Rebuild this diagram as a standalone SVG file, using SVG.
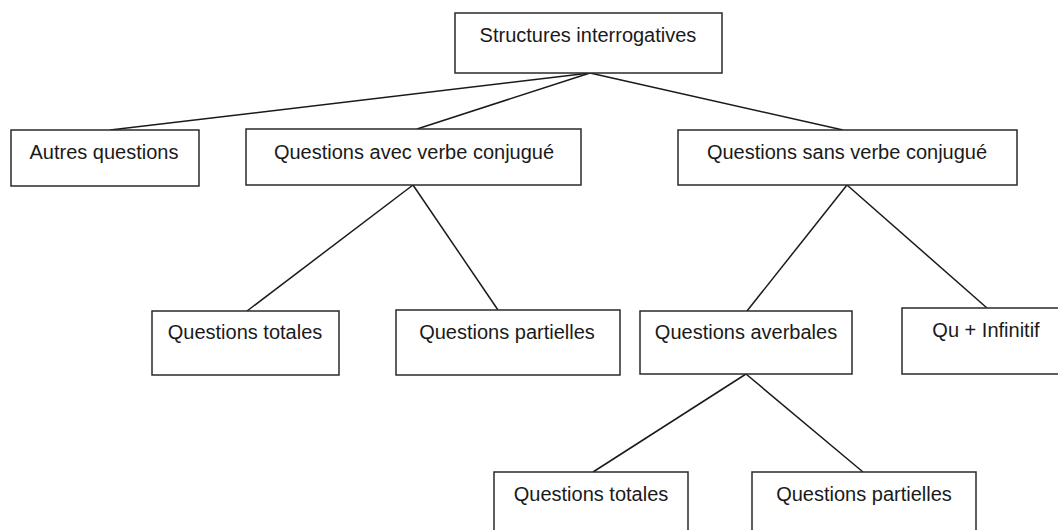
<svg xmlns="http://www.w3.org/2000/svg" width="1058" height="530" viewBox="0 0 1058 530">
<style>
.box{fill:#fff;stroke:#2a2a2a;stroke-width:1.5}
.lbl{font-family:"Liberation Sans",Arial,sans-serif;font-size:20px;fill:#1a1a1a;text-anchor:middle}
.conn line{stroke:#1a1a1a;stroke-width:1.5}
</style>
<rect width="1058" height="530" fill="#fff"/>
<g class="conn" id="connectors">
<line x1="590" y1="73" x2="110" y2="130"/>
<line x1="590" y1="73" x2="417" y2="129"/>
<line x1="590" y1="73" x2="843" y2="130"/>
<line x1="413" y1="185" x2="247" y2="311"/>
<line x1="413" y1="185" x2="498" y2="310"/>
<line x1="847" y1="185" x2="747" y2="311"/>
<line x1="847" y1="185" x2="987" y2="308"/>
<line x1="746" y1="374" x2="593" y2="472"/>
<line x1="746" y1="374" x2="863" y2="472"/>
</g>
<g id="n-root"><rect class="box" x="455" y="13" width="267" height="60"/><text class="lbl" x="588" y="42">Structures interrogatives</text></g>
<g id="n-autres"><rect class="box" x="11" y="130" width="188" height="56"/><text class="lbl" x="104" y="159">Autres questions</text></g>
<g id="n-avec"><rect class="box" x="246" y="129" width="335" height="56"/><text class="lbl" x="414" y="159">Questions avec verbe conjugué</text></g>
<g id="n-sans"><rect class="box" x="678" y="130" width="339" height="55"/><text class="lbl" x="847" y="159">Questions sans verbe conjugué</text></g>
<g id="n-totales1"><rect class="box" x="152" y="311" width="187" height="64"/><text class="lbl" x="245" y="339">Questions totales</text></g>
<g id="n-partielles1"><rect class="box" x="396" y="310" width="224" height="65"/><text class="lbl" x="507" y="339">Questions partielles</text></g>
<g id="n-averbales"><rect class="box" x="640" y="311" width="212" height="63"/><text class="lbl" x="746" y="339">Questions averbales</text></g>
<g id="n-qu"><rect class="box" x="902" y="308" width="160" height="66"/><text class="lbl" x="986" y="337">Qu + Infinitif</text></g>
<g id="n-totales2"><rect class="box" x="494" y="472" width="194" height="70"/><text class="lbl" x="591" y="501">Questions totales</text></g>
<g id="n-partielles2"><rect class="box" x="752" y="472" width="224" height="70"/><text class="lbl" x="864" y="501">Questions partielles</text></g>
</svg>
